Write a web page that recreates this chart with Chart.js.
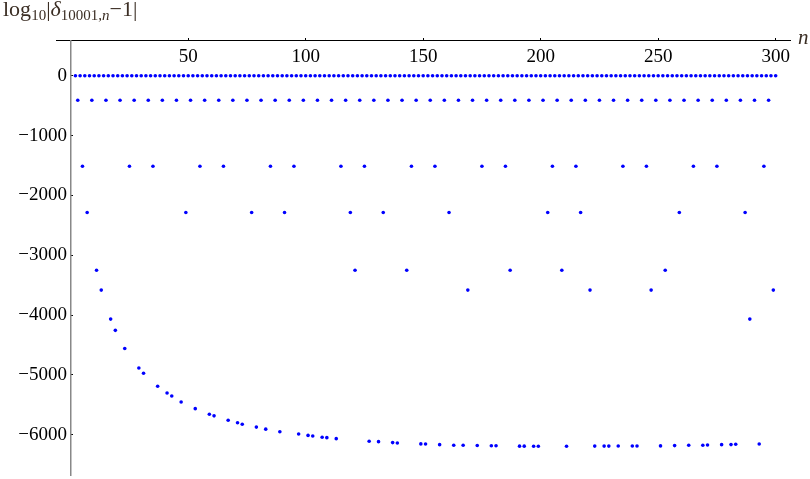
<!DOCTYPE html>
<html>
<head>
<meta charset="utf-8">
<script src="https://cdn.jsdelivr.net/npm/chart.js@4/dist/chart.umd.min.js"></script>
<style>
  body { margin: 0; background: #fff; }
  #wrap { position: relative; width: 810px; height: 479px; }
  #ylab { position: absolute; left: 3px; top: -2px; font: 22px "Liberation Serif", serif; color: #3b2e24; line-height: 22px; white-space: nowrap; }
  #ylab sub { font-size: 15px; vertical-align: baseline; position: relative; top: 4px; }
  #xlab { position: absolute; left: 798px; top: 27px; font: italic 21px "Liberation Serif", serif; color: #3b2e24; line-height: 21px; }
</style>
</head>
<body>
<div id="wrap">
  <canvas id="c" width="810" height="479"></canvas>
  <div id="ylab">log<sub>10</sub>|<i>δ</i><sub>10001,<i>n</i></sub>−1|</div>
  <div id="xlab">n</div>
</div>
<script>
// n even -> value 0
const nEven = [2,4,6,8,10,12,14,16,18,20,22,24,26,28,30,32,34,36,38,40,42,44,46,48,50,
  52,54,56,58,60,62,64,66,68,70,72,74,76,78,80,82,84,86,88,90,92,94,96,98,100,
  102,104,106,108,110,112,114,116,118,120,122,124,126,128,130,132,134,136,138,140,
  142,144,146,148,150,152,154,156,158,160,162,164,166,168,170,172,174,176,178,180,
  182,184,186,188,190,192,194,196,198,200,202,204,206,208,210,212,214,216,218,220,
  222,224,226,228,230,232,234,236,238,240,242,244,246,248,250,252,254,256,258,260,
  262,264,266,268,270,272,274,276,278,280,282,284,286,288,290,292,294,296,298,300];
const valEven = 0;

// odd n grouped by smallest prime factor (each group sits on one level)
const nBy3 = [3,9,15,21,27,33,39,45,51,57,63,69,75,81,87,93,99,105,111,117,123,129,135,141,147,
  153,159,165,171,177,183,189,195,201,207,213,219,225,231,237,243,249,255,261,267,273,279,285,291,297];
const valBy3 = -410;
const nBy5 = [5,25,35,55,65,85,95,115,125,145,155,175,185,205,215,235,245,265,275,295];
const valBy5 = -1512;
const nBy7 = [7,49,77,91,119,133,161,203,217,259,287];
const valBy7 = -2285;
const nBy11 = [11,121,143,187,209,253];
const valBy11 = -3250;
const nBy13 = [13,169,221,247,299];
const valBy13 = -3582;
const nBy17 = [17,289];
const valBy17 = -4067;

// primes from 19 up
const nPrime = [19,23,29,31,37,41,43,47,53,59,61,67,71,73,79,83,89,97,101,103,107,109,113,127,131,
  137,139,149,151,157,163,167,173,179,181,191,193,197,199,211,223,227,229,233,239,241,251,257,263,
  269,271,277,281,283,293];
const valPrime = [-4255,-4558,-4884,-4972,-5188,-5303,-5353,-5452,-5563,-5657,-5684,-5757,-5800,-5823,
  -5872,-5906,-5949,-5988,-6010,-6021,-6040,-6048,-6065,-6109,-6115,-6131,-6137,-6152,-6154,-6165,
  -6174,-6176,-6180,-6182,-6183,-6190,-6190,-6191,-6191,-6192,-6189,-6189,-6189,-6188,-6188,-6187,
  -6186,-6181,-6176,-6175,-6171,-6165,-6164,-6159,-6153];

const xTicks = [50, 100, 150, 200, 250, 300];
const yTicks = [0, -1000, -2000, -3000, -4000, -5000, -6000];

function level(ns, v) {
  return ns.map(n => ({ x: n, y: v }));
}

const points = [].concat(
  level(nEven, valEven),
  level(nBy3, valBy3),
  level(nBy5, valBy5),
  level(nBy7, valBy7),
  level(nBy11, valBy11),
  level(nBy13, valBy13),
  level(nBy17, valBy17),
  nPrime.map((n, i) => ({ x: n, y: valPrime[i] }))
);

const tickFont = { family: 'Liberation Serif', size: 19 };

new Chart(document.getElementById('c'), {
  type: 'scatter',
  data: {
    datasets: [{
      data: points,
      backgroundColor: '#0000ff',
      borderWidth: 0,
      pointRadius: 1.8
    }]
  },
  options: {
    responsive: false,
    animation: false,
    events: [],
    layout: { padding: { left: 56, right: 20, top: 40.7, bottom: 0 } },
    plugins: { legend: { display: false }, tooltip: { enabled: false } },
    scales: {
      x: {
        type: 'linear',
        position: { y: 585 },
        min: -6.26,
        max: 306.1,
        afterBuildTicks: s => { s.ticks = xTicks.map(v => ({ value: v })); },
        afterFit: s => { s.paddingLeft = 0; s.paddingRight = 0; },
        grid: { drawOnChartArea: false, tickLength: -3, color: '#000' },
        border: { color: '#000', width: 1 },
        ticks: { font: tickFont, color: '#000', padding: 7.5, maxRotation: 0, autoSkip: false }
      },
      y: {
        type: 'linear',
        position: { x: 0 },
        min: -6672,
        max: 585,
        afterBuildTicks: s => { s.ticks = yTicks.map(v => ({ value: v })); },
        afterFit: s => { s.paddingTop = 0; s.paddingBottom = 0; },
        grid: { drawOnChartArea: false, tickLength: -3, color: '#000' },
        border: { color: '#888', width: 1.5 },
        ticks: {
          font: tickFont,
          color: '#000',
          autoSkip: false,
          callback: v => (v < 0 ? '\u2212' + Math.abs(v) : String(v)) + '\u2009'
        }
      }
    }
  }
});
</script>
</body>
</html>
